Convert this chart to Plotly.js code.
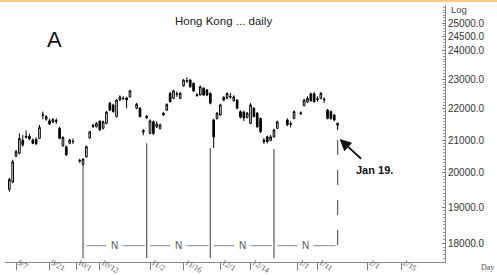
<!DOCTYPE html>
<html>
<head>
<meta charset="utf-8">
<script src="https://cdn.plot.ly/plotly-3.0.1.min.js"></script>
<style>
html,body{margin:0;padding:0;background:#fff;}
#wrap{position:relative;width:497px;height:275px;}
#topband{position:absolute;left:0;top:0;width:497px;height:2px;background:#fcc88e;z-index:5;}
#chart{width:497px;height:275px;}
</style>
</head>
<body>
<div id="wrap"><div id="topband"></div><div id="chart"></div></div>
<script>
// ---- data ----
const dates = ['2009-09-03','2009-09-04','2009-09-07','2009-09-08','2009-09-09','2009-09-10','2009-09-11',
'2009-09-14','2009-09-15','2009-09-16','2009-09-17','2009-09-18','2009-09-21','2009-09-22','2009-09-23',
'2009-09-24','2009-09-25','2009-09-28','2009-09-29','2009-09-30','2009-10-02','2009-10-05','2009-10-06',
'2009-10-07','2009-10-08','2009-10-09','2009-10-12','2009-10-13','2009-10-14','2009-10-15','2009-10-16',
'2009-10-19','2009-10-20','2009-10-21','2009-10-22','2009-10-23','2009-10-27','2009-10-28','2009-10-29',
'2009-10-30','2009-11-02','2009-11-03','2009-11-04','2009-11-05','2009-11-06','2009-11-09','2009-11-10',
'2009-11-11','2009-11-12','2009-11-13','2009-11-16','2009-11-17','2009-11-18','2009-11-19','2009-11-20',
'2009-11-23','2009-11-24','2009-11-25','2009-11-26','2009-11-27','2009-11-30','2009-12-01','2009-12-02',
'2009-12-03','2009-12-04','2009-12-07','2009-12-08','2009-12-09','2009-12-10','2009-12-11','2009-12-14',
'2009-12-15','2009-12-16','2009-12-17','2009-12-18','2009-12-21','2009-12-22','2009-12-23','2009-12-24',
'2009-12-29','2009-12-30','2009-12-31','2010-01-04','2010-01-05','2010-01-06','2010-01-07','2010-01-08',
'2010-01-11','2010-01-12','2010-01-13','2010-01-14','2010-01-15','2010-01-18','2010-01-19'];
const openVals = [19510,19720,20500,20590,21000,21080,21120,21000,21020,21050,21780,21660,21610,21570,21620,
21370,20820,20790,20900,20960,20370,20250,20480,21070,21470,21420,21600,21370,21530,22190,22130,
21750,22300,22360,22360,22400,22020,22020,21300,21700,21210,21580,21420,21370,21860,21960,22520,
22350,22480,22350,22770,22950,22970,22860,22470,22460,22690,22630,22520,21640,21690,21800,22380,
22350,22420,22270,22290,21910,21900,21720,21530,22020,21860,21690,21000,21100,20990,21100,21370,
21640,21520,21690,21870,22110,22230,22500,22500,22340,22350,22330,21960,21910,21800,21530];
const highVals = [19850,20390,20690,21210,21160,21300,21200,21050,21080,21480,21910,21800,21680,21700,21690,
21420,21120,20830,21040,21050,20420,20440,20830,21290,21520,21570,21630,21620,21930,22230,22170,
22320,22450,22420,22400,22640,22200,22060,21350,21800,21660,21620,21600,21520,21890,22180,22560,
22640,22580,22560,23000,23060,23000,22880,22520,22780,22720,22660,22540,21680,21900,22170,22420,
22550,22530,22450,22320,21950,21940,21900,22190,22060,21900,21720,21060,21140,21160,21360,21620,
21690,21600,21950,21920,22330,22420,22540,22560,22420,22560,22380,22000,21950,21830,21560];
const lowVals = [19440,19690,20470,20560,20790,21050,20990,20870,20850,21030,21660,21620,21480,21540,21510,
21030,20800,20510,20870,20880,20300,20200,20460,21040,21380,21400,21290,21340,21500,21930,21880,
21720,22260,22290,22020,22380,21990,21720,21150,21690,21180,21160,21380,21330,21770,21930,22210,
22320,22400,22320,22740,22870,22700,22560,22400,22440,22430,22420,22150,20750,21650,21780,22260,
22320,22330,22240,21990,21690,21600,21690,21500,21720,21390,21230,20880,20900,20960,21080,21350,
21440,21400,21660,21790,22080,22200,22240,22200,22230,22320,22200,21660,21650,21600,21320];
const closeVals = [19800,20330,20640,21050,20850,21120,21040,20900,20880,21400,21800,21750,21510,21660,21600,
21050,21080,20540,21000,20950,20350,20410,20790,21260,21440,21530,21320,21580,21890,21960,21910,
22290,22400,22340,22300,22600,22150,21750,21260,21760,21610,21210,21510,21480,21800,22150,22240,
22600,22500,22520,22970,22930,22740,22600,22450,22740,22460,22460,22190,21100,21860,22130,22290,
22510,22400,22400,22020,21730,21700,21860,22130,21750,21420,21260,20950,20950,21100,21320,21580,
21480,21500,21910,21850,22290,22350,22270,22240,22310,22520,22300,21690,21690,21640,21470];

const tickDates = ['2009-09-07','2009-09-21','2009-10-01','2009-10-12','2009-11-02','2009-11-16',
'2009-12-01','2009-12-14','2010-01-01','2010-01-11','2010-02-01','2010-02-15'];
const tickLabels = ['9/7','9/21','10/1','10/12','11/2','11/16','12/1','12/14','1/1','1/11','2/1','2/15'];
const yTickVals = [18000,19000,20000,21000,22000,23000,24000,24500,25000];

// cycle lows marked on the chart
const cycleDates = ['2009-10-05','2009-10-30','2009-11-26','2009-12-23','2010-01-19'];
const cycleTops = [20200,20900,20750,20720,21000];
const cycleLabel = 'N';
const cycleLength = 19; // trading days between marked lows

const titleText = 'Hong Kong ... daily';
const panelLetter = 'A';
const calloutText = 'Jan 19.';

// ---- helpers ----
const DAY = 86400000;
function addWeekdays(dateStr, n){
  let d = Date.parse(dateStr);
  let whole = Math.floor(n), frac = n - whole;
  while(whole > 0){
    d += DAY;
    const wd = new Date(d).getUTCDay();
    if(wd !== 0 && wd !== 6) whole--;
  }
  return d + frac*DAY;
}
const yr = [Math.log10(17504), Math.log10(25692)];
const yBottom = Math.pow(10, yr[0] + 0.015*(yr[1]-yr[0]));
const yNLog = yr[0] + 0.0634*(yr[1]-yr[0]);
const yN = Math.pow(10, yNLog);

const minorRight = [];
for(let v=17600; v<=25600; v+=100) minorRight.push(v);
const leftTicks = [];
for(let v=17500; v<=25700; v+=250) leftTicks.push(v);

const traces = [];
const annotations = [];
cycleDates.forEach((d,i)=>{
  traces.push({type:'scatter', mode:'lines', x:[d,d], y:[cycleTops[i], yBottom],
    line:{color:'#666', width:1.3, dash: i===cycleDates.length-1 ? 'longdash' : 'solid'},
    hoverinfo:'skip', showlegend:false});
  if(i < cycleDates.length-1){
    traces.push({type:'scatter', mode:'lines', x:[addWeekdays(d,1.0), addWeekdays(d,cycleLength-0.6)],
      y:[yN,yN], line:{color:'#888', width:1}, hoverinfo:'skip', showlegend:false});
    annotations.push({xref:'x', yref:'y', x:addWeekdays(d,cycleLength/2), y:yNLog, text:cycleLabel,
      showarrow:false, bgcolor:'#fff', borderpad:4, xanchor:'center', yanchor:'middle',
      font:{family:'Liberation Sans, Arial, sans-serif', size:10, color:'#555'}});
  }
});

traces.push({
  type:'candlestick', x:dates, open:openVals, high:highVals, low:lowVals, close:closeVals,
  increasing:{line:{color:'#000', width:1}, fillcolor:'#fff'},
  decreasing:{line:{color:'#000', width:1}, fillcolor:'#000'},
  whiskerwidth:0, hoverinfo:'skip', showlegend:false
});

function paperNote(x, y, text, font, xanchor){
  return {xref:'paper', yref:'paper', x:x, y:y, text:text, showarrow:false,
    xanchor:xanchor||'center', yanchor:'middle', font:font};
}
annotations.push(paperNote(0.4955, 0.9358, titleText,
  {family:'Liberation Sans, Arial, sans-serif', size:11.5, color:'#222'}));
annotations.push(paperNote(0.1125, 0.8677, panelLetter,
  {family:'Liberation Sans, Arial, sans-serif', size:22, color:'#111'}));
annotations.push(paperNote(1.0091, 0.9833, 'Log',
  {family:'Liberation Sans, Arial, sans-serif', size:9.5, color:'#444'}, 'left'));
annotations.push(paperNote(1.0955, -0.0222, 'Day',
  {family:'Liberation Serif, Times New Roman, serif', size:8, color:'#555'}));
annotations.push(paperNote(0.8393, 0.3580, calloutText,
  {family:'Liberation Sans, Arial, sans-serif', size:11, color:'#111', weight:'bold'}));
annotations.push({xref:'x', yref:'y', x:cycleDates[cycleDates.length-1], y:Math.log10(21030), xshift:2,
  text:'', showarrow:true, ax:23, ay:21, arrowhead:2, arrowsize:1.3, arrowwidth:1.8, arrowcolor:'#111'});

const layout = {
  width:497, height:275,
  margin:{l:5, r:52, t:5, b:13, pad:0},
  paper_bgcolor:'#fff', plot_bgcolor:'#fff',
  showlegend:false,
  xaxis:{type:'date', range:['2009-09-01 16:48','2010-03-04 01:30'],
    rangebreaks:[{bounds:['sat','mon']}],
    rangeslider:{visible:false},
    tickmode:'array', tickvals:tickDates, ticktext:tickLabels,
    ticks:'outside', ticklen:7, tickcolor:'#777', tickwidth:1,
    ticklabelposition:'outside right', ticklabelstandoff:-8, ticklabelshift:2,
    tickfont:{family:'Liberation Serif, Times New Roman, serif', size:8, color:'#555'},
    showline:true, linecolor:'#888', linewidth:1, showgrid:false, zeroline:false, fixedrange:true},
  yaxis:{type:'log', side:'right', range:yr,
    tickmode:'array', tickvals:yTickVals, tickformat:'.1f',
    ticks:'inside', ticklen:3, tickcolor:'#777',
    minor:{tickmode:'array', tickvals:minorRight, ticks:'inside', ticklen:2, tickcolor:'#999', showgrid:false},
    tickfont:{family:'Liberation Sans, Arial, sans-serif', size:10, color:'#333'},
    showline:true, linecolor:'#888', linewidth:1, showgrid:false, zeroline:false, fixedrange:true},
  yaxis2:{type:'log', side:'left', overlaying:'y', anchor:'x', range:yr,
    tickmode:'array', tickvals:leftTicks, ticks:'inside', ticklen:3, tickcolor:'#999',
    showticklabels:false, showline:true, linecolor:'#999', linewidth:1, showgrid:false, zeroline:false},
  annotations:annotations
};

Plotly.newPlot('chart', traces, layout, {staticPlot:true, displayModeBar:false});
</script>
</body>
</html>
